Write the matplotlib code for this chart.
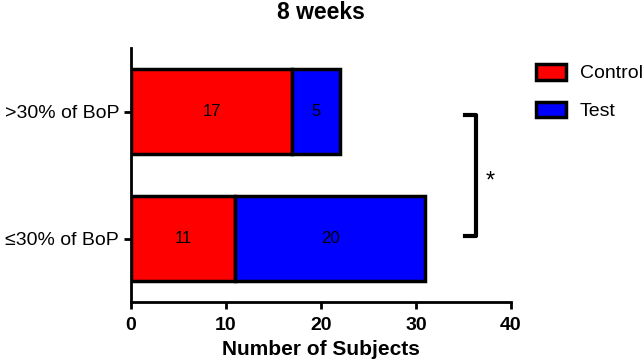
import matplotlib
matplotlib.use("Agg")
import matplotlib.pyplot as plt
from matplotlib.patches import Patch

plt.rcParams['font.family'] = ['Liberation Sans', 'DejaVu Sans']

categories = ["\u226430% of BoP", ">30% of BoP"]
control = [11, 17]
test = [20, 5]

fig = plt.figure(figsize=(6.44, 3.62), dpi=100)
ax = fig.add_axes([0.2034, 0.1657, 0.59, 0.7017])

ypos = [0, 1]
b1 = ax.barh(ypos, control, height=0.67, color="#ff0000", edgecolor="black", linewidth=2.5)
b2 = ax.barh(ypos, test, left=control, height=0.67, color="#0000ff", edgecolor="black", linewidth=2.5)
ax.bar_label(b1, label_type="center", fontsize=12)
ax.bar_label(b2, label_type="center", fontsize=12)

ax.set_xlim(0, 40)
ax.set_ylim(-0.5, 1.5)
ax.set_yticks(ypos)
ax.set_yticklabels(categories, fontsize=14)
ax.set_xticks([0, 10, 20, 30, 40])
ax.set_xticklabels(["0", "10", "20", "30", "40"], fontsize=14, fontweight="bold")
ax.set_xlabel("Number of Subjects", fontsize=15, fontweight="bold", labelpad=4)
ax.set_title("8 weeks", fontsize=16.5, fontweight="bold", pad=21)

for s in ["top", "right"]:
    ax.spines[s].set_visible(False)
for s in ["left", "bottom"]:
    ax.spines[s].set_linewidth(2)
ax.tick_params(width=2, length=5)
ax.tick_params(axis="x", pad=6)

# significance bracket
ax.plot([35.2, 36.3, 36.3, 35.2], [0.02, 0.02, 0.97, 0.97], color="black", lw=3, clip_on=False)
ax.text(37.8, 0.45, "*", fontsize=17, ha="center", va="center", clip_on=False)

handles = [Patch(facecolor="#ff0000", edgecolor="black", linewidth=2.5, label="Control"),
           Patch(facecolor="#0000ff", edgecolor="black", linewidth=2.5, label="Test")]
fig.legend(handles=handles, loc="upper left", bbox_to_anchor=(536 / 644, 1 - 64 / 362), frameon=False,
           fontsize=14, handlelength=1.55, handleheight=0.85, handletextpad=0.7,
           labelspacing=1.0, borderpad=0, borderaxespad=0)

fig.savefig("out.png", dpi=100)
